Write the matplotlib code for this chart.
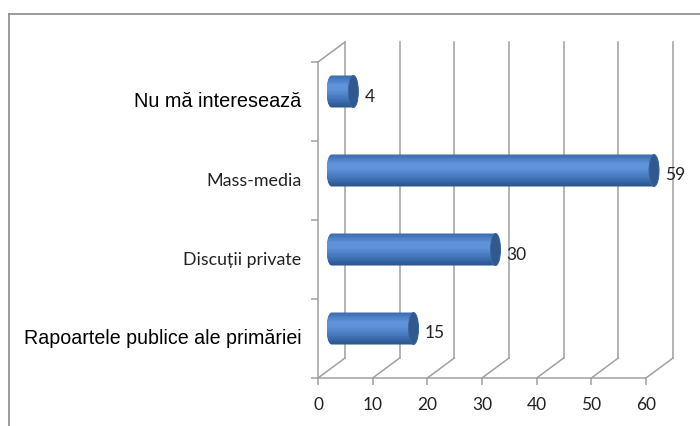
import numpy as np
import matplotlib
matplotlib.use("Agg")
import matplotlib.pyplot as plt
from matplotlib.patches import Ellipse, Polygon
from matplotlib.colors import LinearSegmentedColormap
from matplotlib.lines import Line2D
import matplotlib.transforms as mtrans

# ---- data ----
categories = ["Rapoartele publice ale primăriei", "Discuții private", "Mass-media", "Nu mă interesează"]
values = [15, 30, 59, 4]
xticks = [0, 10, 20, 30, 40, 50, 60]
xticklabels = ["0", "10", "20", "30", "40", "50", "60"]
label_fonts = ["Liberation Sans", "Lato", "Lato", "Liberation Sans"]
label_sizes = [14.1, 12.8, 12.9, 14.3]

W, H = 700, 426
fig = plt.figure(figsize=(W / 100, H / 100), dpi=100)
fig.patch.set_facecolor("white")

# front plane of the 3D box
x0p, x1p, ytop, ybot = 318, 646, 62, 378
ax = fig.add_axes([x0p / W, (H - ybot) / H, (x1p - x0p) / W, (ybot - ytop) / H])
ax.set_xlim(0, 60)
ax.set_ylim(0, 4)
ax.patch.set_alpha(0)

pxx = (x1p - x0p) / 60.0   # pixels per x unit
pxy = (ybot - ytop) / 4.0  # pixels per y unit
dxd, dyd = 27 / pxx, 20 / pxy  # depth offset in data units

grid_c = "#a0a0a0"
# back wall gridlines and floor diagonals
for t in xticks:
    ax.plot([t + dxd, t + dxd], [dyd, 4 + dyd], color=grid_c, lw=1.1, clip_on=False, zorder=1)
    ax.plot([t, t + dxd], [0, dyd], color=grid_c, lw=1.1, clip_on=False, zorder=1)
# left wall top diagonal
ax.plot([0, dxd], [4, 4 + dyd], color=grid_c, lw=1.1, clip_on=False, zorder=1)

for s in ["top", "right"]:
    ax.spines[s].set_visible(False)
for s in ["left", "bottom"]:
    ax.spines[s].set_color(grid_c)
    ax.spines[s].set_linewidth(1.1)

ax.set_xticks(xticks)
ax.set_xticklabels(xticklabels, fontfamily="Lato", fontsize=12.5, color="#222222")
ax.tick_params(axis="x", length=5, color=grid_c, width=1.1, pad=9)
ax.set_yticks([0, 1, 2, 3, 4])
ax.set_yticklabels([])
ax.tick_params(axis="y", which="major", length=5, color=grid_c, width=1.1)
ax.set_yticks([0.5, 1.5, 2.5, 3.5], minor=True)
ax.set_yticklabels(categories, minor=True)
ax.tick_params(axis="y", which="minor", length=0, pad=12)
for lab, fam, fs in zip(ax.get_yticklabels(minor=True), label_fonts, label_sizes):
    lab.set_fontfamily(fam)
    lab.set_fontsize(fs)
    lab.set_color("#000000" if fam == "Liberation Sans" else "#222222")
    lab.set_va("center")

# cylinder bars
cmap = LinearSegmentedColormap.from_list(
    "cyl", [(0, "#3a6aad"), (0.3, "#5f94dc"), (0.45, "#5d92da"), (0.78, "#3f6fb2"), (1, "#28528b")])
bh = 32 / pxy
ew = 10 / pxx
bxo, byo = 13.5 / pxx, 10 / pxy
nstrip = 40
for i, v in enumerate(values):
    yc = i + 0.5 + byo
    xs = bxo
    xe = bxo + v
    # outline shape: left half-ellipse + body + right half-ellipse
    th1 = np.linspace(np.pi / 2, 3 * np.pi / 2, 40)
    th2 = np.linspace(-np.pi / 2, np.pi / 2, 40)
    left = np.column_stack([xs + ew / 2 * np.cos(th1), yc + bh / 2 * np.sin(th1)])
    right = np.column_stack([xe + ew / 2 * np.cos(th2), yc + bh / 2 * np.sin(th2)])
    shape = Polygon(np.vstack([left, right]), closed=True, transform=ax.transData,
                    facecolor="none", edgecolor="none", clip_on=False)
    ax.add_patch(shape)
    for k in range(nstrip):
        ytop_k = yc + bh / 2 - k * bh / nstrip
        r = ax.barh(ytop_k - bh / nstrip / 2, (xe + ew / 2) - (xs - ew / 2) + 0.1,
                    height=bh / nstrip * 1.05, left=xs - ew / 2,
                    color=cmap((k + 0.5) / nstrip), linewidth=0, zorder=3)
        for p in r:
            p.set_clip_box(fig.bbox)
            p.set_clip_path(shape)
    cap = Ellipse((xe, yc), ew, bh, facecolor="#30598f", edgecolor="#3b67a0", lw=0.7,
                  zorder=4, clip_on=False)
    ax.add_patch(cap)
    ax.text(v, i + 0.5, str(v),
            transform=ax.transData + mtrans.ScaledTranslation(24.5 / 100, 5 / 100, fig.dpi_scale_trans),
            ha="left", va="center", fontfamily="Lato", fontsize=12.5, color="#222222", zorder=5,
            clip_on=False)

ax.set_xlim(0, 60)
ax.set_ylim(0, 4)

# chart border
fig.add_artist(Line2D([8.5 / W, 8.5 / W], [0, (H - 13.5) / H], color="#8a8a8a", lw=1.2))
fig.add_artist(Line2D([8.5 / W, 1], [(H - 13.5) / H, (H - 13.5) / H], color="#8a8a8a", lw=1.2))

fig.savefig("out.png", dpi=100)
